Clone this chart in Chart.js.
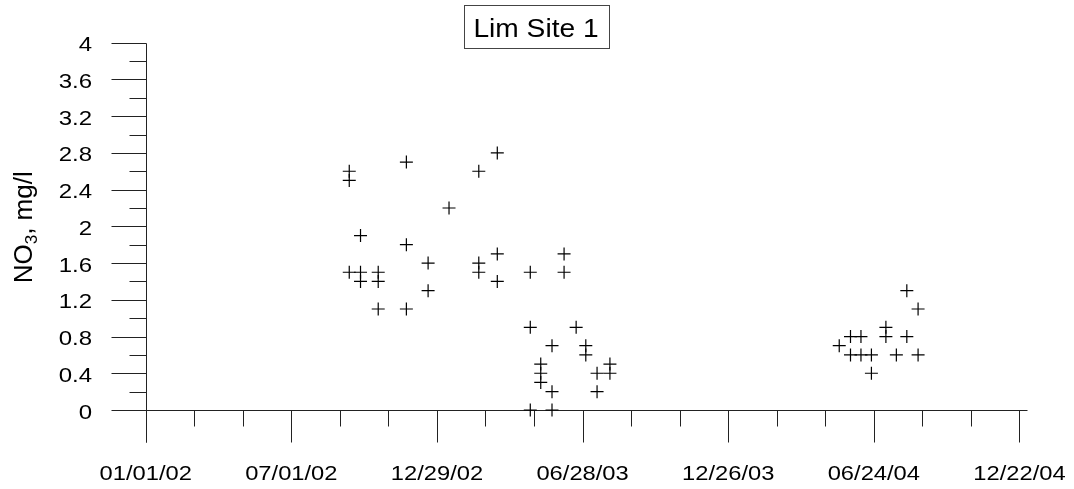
<!DOCTYPE html>
<html>
<head>
<meta charset="utf-8">
<script src="https://cdn.jsdelivr.net/npm/chart.js@4"></script>
<style>
  body { margin: 0; background: #fff; }
  #wrap { width: 1074px; height: 489px; position: relative; }
</style>
</head>
<body>
<div id="wrap"><canvas id="myChart"></canvas></div>
<script>
// sampling dates and nitrate readings (one entry per reading)
var sampleDates = [
    '2002-09-11', '2002-09-11', '2002-09-11',
    '2002-09-25', '2002-09-25', '2002-09-25',
    '2002-10-17', '2002-10-17', '2002-10-17',
    '2002-11-21', '2002-11-21', '2002-11-21',
    '2002-12-18', '2002-12-18',
    '2003-01-13',
    '2003-02-19', '2003-02-19', '2003-02-19',
    '2003-03-14', '2003-03-14', '2003-03-14',
    '2003-04-24', '2003-04-24', '2003-04-24',
    '2003-05-07', '2003-05-07', '2003-05-07',
    '2003-05-21', '2003-05-21', '2003-05-21',
    '2003-06-05', '2003-06-05',
    '2003-06-20',
    '2003-07-02', '2003-07-02',
    '2003-07-16', '2003-07-16',
    '2003-08-01', '2003-08-01',
    '2004-05-12',
    '2004-05-26', '2004-05-26',
    '2004-06-08', '2004-06-08',
    '2004-06-21', '2004-06-21',
    '2004-07-09', '2004-07-09',
    '2004-07-22',
    '2004-08-04', '2004-08-04',
    '2004-08-18', '2004-08-18'
];
var no3Values = [
    2.6, 2.5, 1.5,
    1.9, 1.5, 1.4,
    1.5, 1.4, 1.1,
    2.7, 1.8, 1.1,
    1.6, 1.3,
    2.2,
    2.6, 1.6, 1.5,
    2.8, 1.7, 1.4,
    1.5, 0.9, 0.0,
    0.5, 0.4, 0.3,
    0.7, 0.2, 0.0,
    1.7, 1.5,
    0.9,
    0.7, 0.6,
    0.4, 0.2,
    0.5, 0.4,
    0.7,
    0.8, 0.6,
    0.8, 0.6,
    0.6, 0.4,
    0.9, 0.8,
    0.6,
    1.3, 0.8,
    1.1, 0.6
];

var xTickLabels = ['01/01/02', '07/01/02', '12/29/02', '06/28/03', '12/26/03', '06/24/04', '12/22/04'];
var xTickStep = 181;       // days between labelled ticks
var xMaxDay = 1095;        // 12/31/04
var yTicks = [0, 0.4, 0.8, 1.2, 1.6, 2, 2.4, 2.8, 3.2, 3.6, 4];

var dayZero = Date.UTC(2002, 0, 1);
function dayOf(s) {
    var p = s.split('-');
    return (Date.UTC(+p[0], +p[1] - 1, +p[2]) - dayZero) / 86400000;
}

var points = sampleDates.map(function (d, i) {
    return { x: dayOf(d), y: no3Values[i] };
});

var FONT = '"Liberation Sans", Arial, sans-serif';

function wideText(ctx, text, x, y, size, sx, align) {
    ctx.save();
    ctx.translate(x, y);
    ctx.scale(sx, 1);
    ctx.font = size + 'px ' + FONT;
    ctx.textAlign = align;
    ctx.textBaseline = 'alphabetic';
    ctx.fillText(text, 0, 0);
    ctx.restore();
}

// axes, ticks, labels and the boxed title
var axesPlugin = {
    id: 'axesPlugin',
    beforeDatasetsDraw: function (chart) {
        var ctx = chart.ctx;
        var xs = chart.scales.x, ys = chart.scales.y;
        var area = chart.chartArea;
        var x0 = Math.round(xs.getPixelForValue(0)) + 0.5;
        var y0 = Math.round(ys.getPixelForValue(0)) + 0.5;

        ctx.save();
        ctx.strokeStyle = '#222';
        ctx.lineWidth = 1;
        ctx.fillStyle = '#000';

        // axis lines
        ctx.beginPath();
        ctx.moveTo(x0, Math.round(ys.getPixelForValue(4)) + 0.5);
        ctx.lineTo(x0, y0 + 32);
        ctx.moveTo(x0, y0);
        ctx.lineTo(Math.round(xs.getPixelForValue(xMaxDay)) + 0.5, y0);
        ctx.stroke();

        // y ticks: labelled every 0.4, minor halfway
        ctx.beginPath();
        for (var i = 0; i < yTicks.length; i++) {
            var py = Math.round(ys.getPixelForValue(yTicks[i])) + 0.5;
            ctx.moveTo(x0 - 35, py);
            ctx.lineTo(x0, py);
            if (i < yTicks.length - 1) {
                var pm = Math.round(ys.getPixelForValue((yTicks[i] + yTicks[i + 1]) / 2)) + 0.5;
                ctx.moveTo(x0 - 17, pm);
                ctx.lineTo(x0, pm);
            }
        }
        ctx.stroke();
        yTicks.forEach(function (v) {
            wideText(ctx, String(v), 92, ys.getPixelForValue(v) + 8.5, 20, 1.2, 'right');
        });

        // x ticks: labelled every 181 days, two minor in between
        ctx.beginPath();
        for (var k = 0; k < xTickLabels.length; k++) {
            for (var m = 0; m < 3; m++) {
                if (k == xTickLabels.length - 1 && m > 0) break;
                var px = Math.round(xs.getPixelForValue(k * xTickStep + m * xTickStep / 3)) + 0.5;
                ctx.moveTo(px, y0);
                ctx.lineTo(px, y0 + (m == 0 ? 32 : 16));
            }
        }
        ctx.stroke();
        xTickLabels.forEach(function (lab, k) {
            wideText(ctx, lab, xs.getPixelForValue(k * xTickStep), 480, 21, 1.13, 'center');
        });

        // y axis title with subscript
        ctx.save();
        ctx.translate(31.7, 283.3);
        ctx.rotate(-Math.PI / 2);
        ctx.textBaseline = 'alphabetic';
        ctx.textAlign = 'left';
        ctx.font = '26px ' + FONT;
        var w = ctx.measureText('NO').width;
        ctx.fillText('NO', 0, 0);
        ctx.font = '17px ' + FONT;
        ctx.fillText('3', w, 5);
        w += ctx.measureText('3').width;
        ctx.font = '26px ' + FONT;
        ctx.fillText(', mg/l', w, 0);
        ctx.restore();

        // boxed title
        ctx.strokeStyle = '#444';
        ctx.strokeRect(464.5, 5.5, 145, 43);
        wideText(ctx, 'Lim Site 1', 536, 36.7, 25.6, 1.1, 'center');

        ctx.restore();
    }
};

var ctx = document.getElementById('myChart');
var myChart = new Chart(ctx, {
    type: 'scatter',
    data: {
        datasets: [{
            label: 'NO3',
            data: points,
            pointStyle: 'cross',
            pointRadius: 6.5,
            pointHoverRadius: 6.5,
            borderColor: '#000',
            backgroundColor: '#000',
            borderWidth: 1.2,
            clip: false
        }]
    },
    options: {
        responsive: true,
        maintainAspectRatio: false,
        animation: false,
        events: [],
        layout: {
            padding: { left: 0, top: 42.7, right: 47.3, bottom: 0 }
        },
        plugins: {
            legend: { display: false },
            tooltip: { enabled: false }
        },
        scales: {
            x: {
                type: 'linear',
                min: 0,
                max: xMaxDay,
                grid: { display: false },
                border: { display: false },
                ticks: { display: false },
                afterFit: function (scale) { scale.height = 79; }
            },
            y: {
                min: 0,
                max: 4,
                grid: { display: false },
                border: { display: false },
                ticks: { display: false },
                afterFit: function (scale) { scale.width = 145.7; }
            }
        }
    },
    plugins: [axesPlugin]
});
</script>
</body>
</html>
